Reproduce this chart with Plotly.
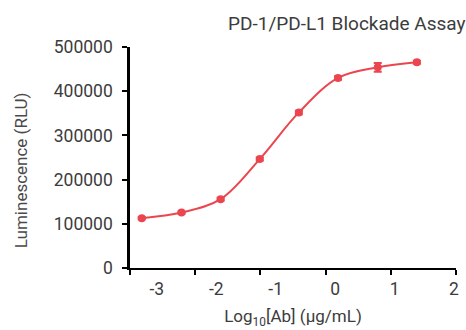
import plotly.graph_objects as go

# Log10 concentration (4-fold dilution series, µg/mL)
log_conc = [-2.82, -2.21, -1.61, -1.01, -0.41, 0.19, 0.80, 1.40]
rlu = [112700, 125400, 155800, 246500, 352000, 430000, 454000, 465500]
rlu_err = [2500, 2500, 3000, 3500, 4000, 4000, 10000, 3500]

x_ticks = [-3, -2, -1, 0, 1, 2]
y_ticks = [0, 100000, 200000, 300000, 400000, 500000]

RED = "#eb4650"
TXT = "#3c3c3c"
FONT = "Roboto"

fig = go.Figure()
fig.add_trace(go.Scatter(
    x=log_conc, y=rlu,
    mode="lines+markers",
    line=dict(color=RED, width=2, shape="spline", smoothing=1.0),
    marker=dict(color=RED, size=8),
    error_y=dict(type="data", array=rlu_err, color=RED, thickness=2, width=4),
    cliponaxis=False,
    showlegend=False,
))
# invisible helper trace so the label axis is drawn
fig.add_trace(go.Scatter(
    x=x_ticks, y=[0] * len(x_ticks), xaxis="x2",
    mode="markers", marker=dict(opacity=0), showlegend=False, hoverinfo="skip",
))

fig.update_layout(
    width=466, height=330,
    margin=dict(l=130, r=7, t=47, b=62),
    paper_bgcolor="white", plot_bgcolor="white",
    font=dict(family=FONT, size=17, color=TXT),
    title=dict(
        text="PD-1/PD-L1 Blockade Assay",
        xref="container", x=0.999, xanchor="right",
        yref="container", y=0.93, yanchor="middle",
        font=dict(family=FONT, size=19, color=TXT),
        pad=dict(r=0, l=0, t=0, b=0),
    ),
    xaxis=dict(
        range=[-3, 2], tickvals=x_ticks, showticklabels=False,
        ticks="outside", ticklen=5, tickwidth=2, tickcolor="black",
        showline=True, linecolor="black", linewidth=2,
        showgrid=False, zeroline=False,
    ),
    xaxis2=dict(
        overlaying="x", side="bottom",
        range=[-3.45, 2.033], tickvals=x_ticks,
        ticktext=[str(v) for v in x_ticks],
        ticks="outside", ticklen=5, tickcolor="rgba(0,0,0,0)",
        showline=False, showgrid=False, zeroline=False,
        tickfont=dict(family=FONT, size=17.5, color=TXT),
        title=dict(text="Log<sub>10</sub>[Ab] (µg/mL)",
                   font=dict(family=FONT, size=17, color=TXT), standoff=12),
    ),
    yaxis=dict(
        range=[0, 500000], tickvals=y_ticks,
        ticktext=[str(v) for v in y_ticks],
        ticks="outside", ticklen=5, tickwidth=2, tickcolor="black",
        ticklabelstandoff=6,
        showline=True, linecolor="black", linewidth=2.5,
        showgrid=False, zeroline=False,
        tickfont=dict(family=FONT, size=17.5, color=TXT),
    ),
    annotations=[dict(
        text="Luminescence (RLU)", textangle=-90,
        xref="paper", yref="paper", x=-0.334, y=0.443,
        xanchor="center", yanchor="middle", showarrow=False,
        font=dict(family=FONT, size=17, color="#4a4a4a"),
    )],
)

fig.write_html("out.html")
